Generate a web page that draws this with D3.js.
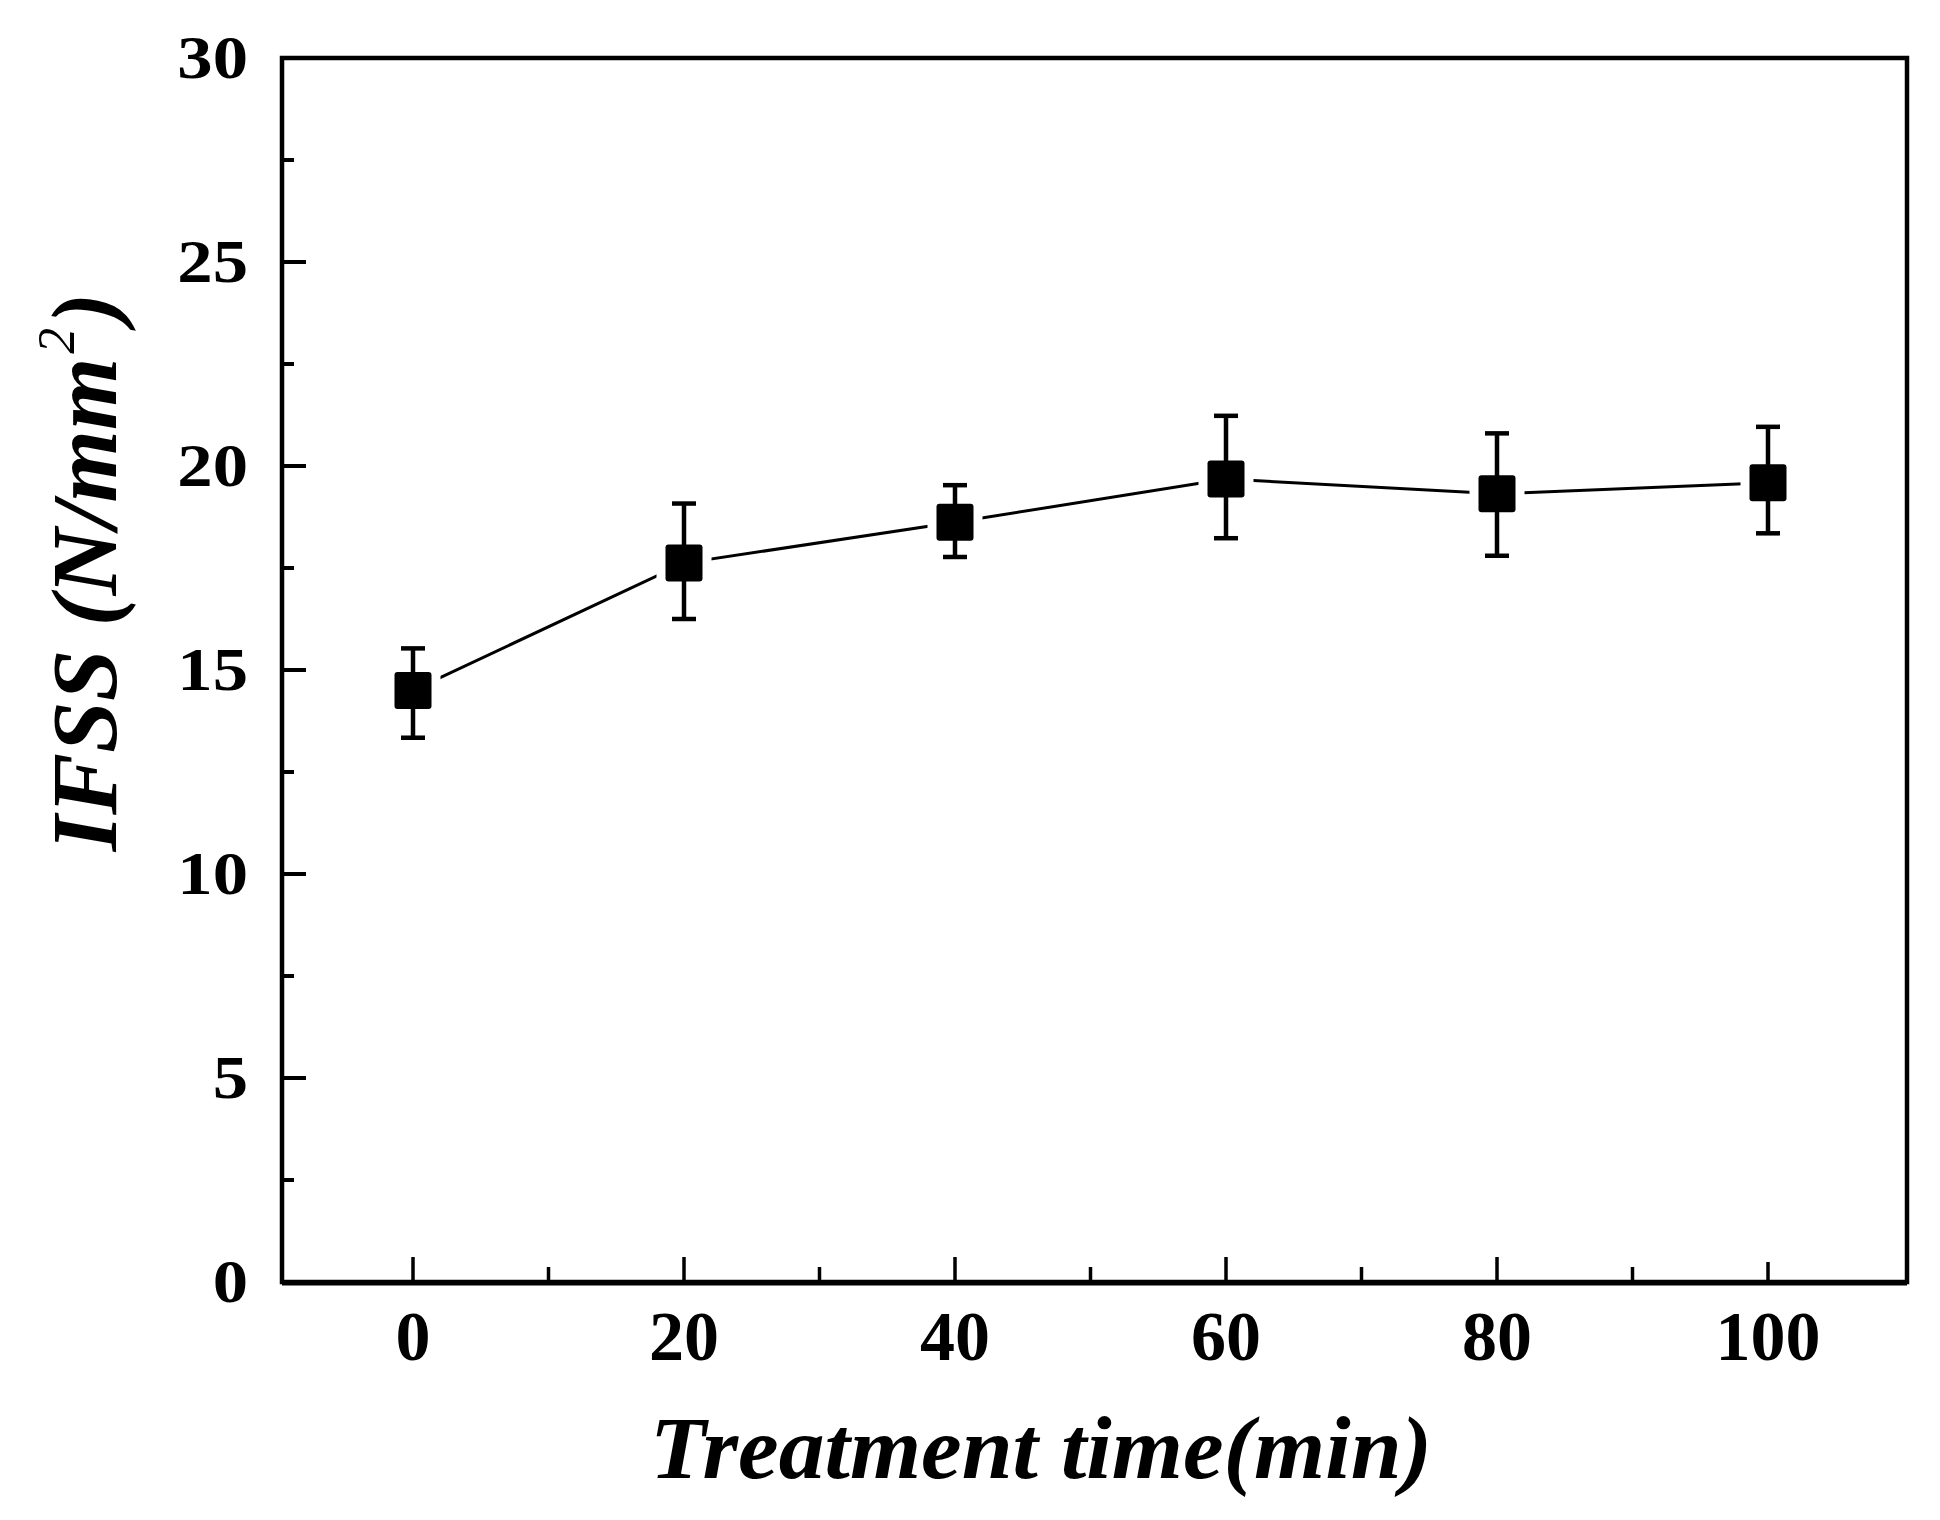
<!DOCTYPE html>
<html><head><meta charset="utf-8">
<script src="https://cdn.jsdelivr.net/npm/d3@7"></script>
<style>html,body{margin:0;padding:0;background:#fff;}</style>
</head><body>
<svg id="c" width="1940" height="1520"></svg>
<script>
const times = [0, 20, 40, 60, 80, 100];
const ifss = [14.5, 17.62, 18.62, 19.68, 19.32, 19.59];
const errLow = [13.34, 16.25, 17.77, 18.23, 17.8, 18.35];
const errHigh = [15.53, 19.08, 19.53, 21.23, 20.8, 20.96];
const xTickLabels = [0, 20, 40, 60, 80, 100];
const yTickLabels = [0, 5, 10, 15, 20, 25, 30];

const svg = d3.select("#c");
const L = 282, R = 1907, T = 58, B = 1282;
const x = d3.scaleLinear().domain([0, 100]).range([413, 1768]);
const y = d3.scaleLinear().domain([0, 30]).range([B, T]);
const serif = "'Liberation Serif','Times New Roman',serif";

// ticks (inward)
const gt = svg.append("g").attr("stroke", "#000");
d3.range(0, 101, 10).forEach(v => {
  const major = v % 20 === 0;
  const len = v === 100 ? 20 : (major ? 25 : 15);
  gt.append("line").attr("x1", x(v)).attr("x2", x(v))
    .attr("y1", B).attr("y2", B - len).attr("stroke-width", 3.5);
});
d3.range(0, 30.1, 2.5).forEach(v => {
  const major = v % 5 === 0;
  gt.append("line").attr("x1", L).attr("x2", L + (major ? 24 : 12))
    .attr("y1", y(v)).attr("y2", y(v)).attr("stroke-width", 4);
});

// frame
svg.append("rect").attr("x", L).attr("y", T).attr("width", R - L).attr("height", B - T)
  .attr("fill", "none").attr("stroke", "#000").attr("stroke-width", 4.5);
svg.append("line").attr("x1", L).attr("x2", R).attr("y1", B + 1.5).attr("y2", B + 1.5)
  .attr("stroke", "#000").attr("stroke-width", 4);

// tick labels
xTickLabels.forEach(v => {
  svg.append("text").attr("x", x(v)).attr("y", 1360)
    .attr("text-anchor", "middle").attr("font-family", serif).attr("font-weight", "bold")
    .attr("font-size", 70).attr("fill", "#000").text(v);
});
yTickLabels.forEach(v => {
  svg.append("text").attr("transform", `translate(248,${y(v) + 20}) scale(1.14,1)`)
    .attr("text-anchor", "end").attr("font-family", serif).attr("font-weight", "bold")
    .attr("font-size", 62).attr("fill", "#000").text(v);
});

// axis titles
svg.append("text").attr("x", 650).attr("y", 1478)
  .attr("font-family", serif).attr("font-weight", "bold").attr("font-style", "italic")
  .attr("font-size", 88).attr("textLength", 782).attr("lengthAdjust", "spacingAndGlyphs")
  .attr("fill", "#000").text("Treatment time(min)");

const yt = svg.append("text").attr("transform", "translate(116,572) rotate(-90)")
  .attr("text-anchor", "middle").attr("font-family", serif).attr("font-weight", "bold")
  .attr("font-style", "italic").attr("font-size", 93).attr("fill", "#000");
yt.append("tspan").text("IFSS (N/mm");
yt.append("tspan").attr("dy", -42).attr("dx", 4).attr("font-size", 52).attr("font-weight", "normal").text("2");
yt.append("tspan").attr("dy", 42).attr("dx", 4).text(")");

// data
const data = times.map((t, i) => ({t, v: ifss[i], lo: errLow[i], hi: errHigh[i]}));
svg.append("path").datum(data)
  .attr("d", d3.line().x(d => x(d.t)).y(d => y(d.v)))
  .attr("fill", "none").attr("stroke", "#000").attr("stroke-width", 3);

const S = 37;
svg.selectAll(".halo").data(data).join("rect")
  .attr("x", d => x(d.t) - S / 2 - 9).attr("y", d => y(d.v) - S / 2 - 9)
  .attr("width", S + 18).attr("height", S + 18).attr("fill", "#fff");
const eb = svg.append("g").attr("stroke", "#000").attr("stroke-width", 4.5);
data.forEach(d => {
  eb.append("line").attr("x1", x(d.t)).attr("x2", x(d.t)).attr("y1", y(d.lo)).attr("y2", y(d.hi));
  eb.append("line").attr("x1", x(d.t) - 12).attr("x2", x(d.t) + 12).attr("y1", y(d.lo)).attr("y2", y(d.lo));
  eb.append("line").attr("x1", x(d.t) - 12).attr("x2", x(d.t) + 12).attr("y1", y(d.hi)).attr("y2", y(d.hi));
});
svg.selectAll(".mk").data(data).join("rect")
  .attr("x", d => x(d.t) - S / 2).attr("y", d => y(d.v) - S / 2)
  .attr("width", S).attr("height", S).attr("rx", 3).attr("fill", "#000");
</script>
</body></html>
